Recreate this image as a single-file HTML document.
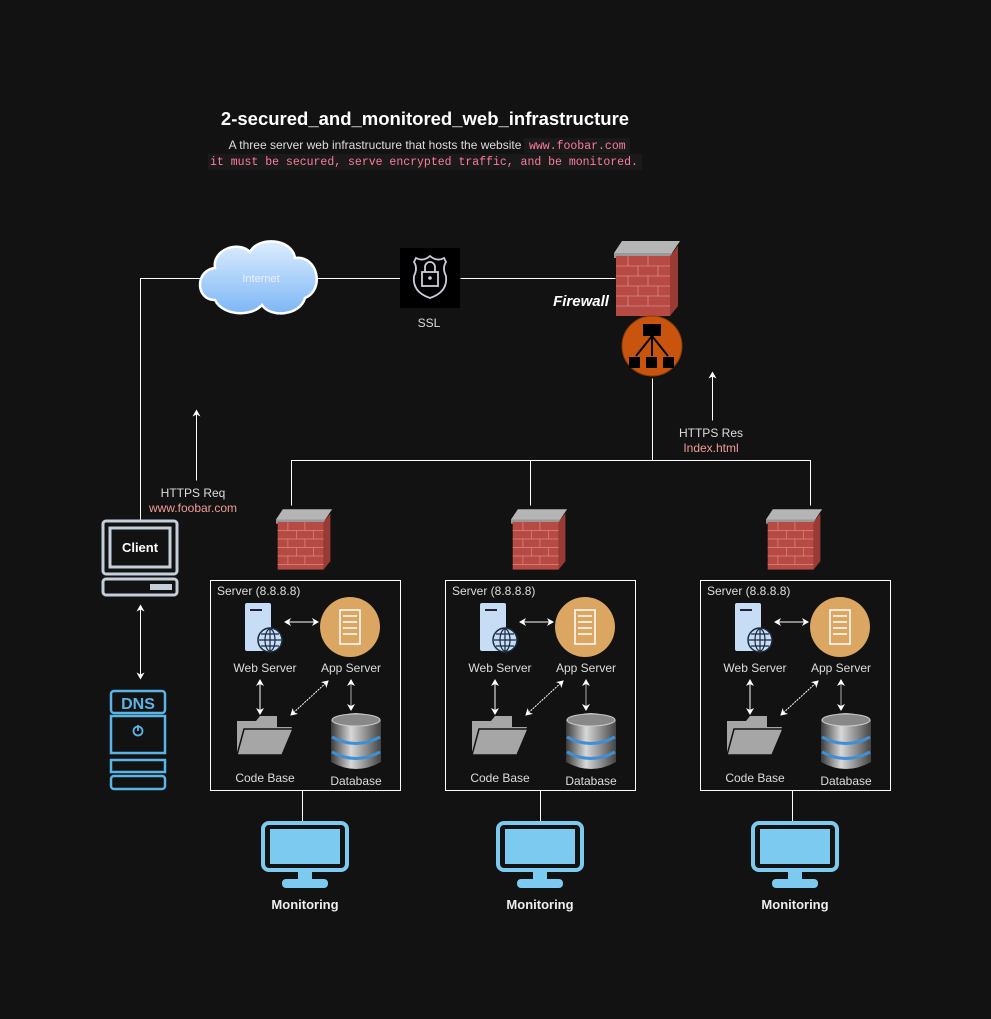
<!DOCTYPE html>
<html><head><meta charset="utf-8"><style>
html,body{margin:0;padding:0;background:#121212;}
svg{display:block;font-family:"Liberation Sans",sans-serif;}
</style></head><body>
<svg width="991" height="1019" viewBox="0 0 991 1019" xmlns="http://www.w3.org/2000/svg">
<defs>
<marker id="a" markerWidth="8" markerHeight="8" refX="6" refY="4" orient="auto-start-reverse" markerUnits="userSpaceOnUse"><path d="M0,0 L7,4 L0,8 L2,4 z" fill="#fff"/></marker>
<linearGradient id="cl" x1="0" y1="0" x2="0" y2="1"><stop offset="0" stop-color="#dceefe"/><stop offset="1" stop-color="#7eb6f5"/></linearGradient>
<linearGradient id="db" x1="0" y1="0" x2="1" y2="0"><stop offset="0" stop-color="#3a3a3a"/><stop offset="0.4" stop-color="#d8d8d8"/><stop offset="1" stop-color="#444"/></linearGradient>
</defs>
<rect width="991" height="1019" fill="#121212"/>
<!-- title -->
<text x="425" y="125" text-anchor="middle" fill="#fff" font-size="18.5" font-weight="bold">2-secured_and_monitored_web_infrastructure</text>
<text x="375" y="149" text-anchor="middle" fill="#ddd" font-size="12">A three server web infrastructure that hosts the website</text>
<rect x="524" y="138" width="106" height="15" fill="#1a1a1a"/>
<rect x="208" y="154" width="434" height="16" fill="#1a1a1a"/>
<text x="529" y="149" fill="#ff7b9c" font-family="Liberation Mono,monospace" font-size="11.5">www.foobar.com</text>
<text x="210" y="165" fill="#ff7b9c" font-family="Liberation Mono,monospace" font-size="11.5">it must be secured, serve encrypted traffic, and be monitored.</text>

<!-- lines -->
<g stroke="#fff" stroke-width="1" fill="none" transform="translate(0.5,0.5)">
<path d="M140 520 V278 H205"/>
<path d="M315 278 H400"/>
<path d="M460 278 H615"/>
<path d="M652 378 V460"/>
<path d="M291 505 V460 H810 V505"/>
<path d="M530 460 V505"/>
<path d="M712 420 V372" marker-end="url(#a)"/>
<path d="M196 480 V410" marker-end="url(#a)"/>
<path d="M140 605 V678" marker-start="url(#a)" marker-end="url(#a)"/>
<path d="M302 790 V822"/><path d="M540 790 V822"/><path d="M792 790 V822"/>
</g>

<!-- cloud -->
<path d="M215 300 C195 300 195 270 215 268 C212 250 238 240 250 252 C258 236 292 238 295 258 C318 255 325 290 305 298 C300 316 270 318 262 305 C250 318 222 315 215 300 Z" fill="url(#cl)" stroke="#fff" stroke-width="2.5"/>
<text x="261" y="282" text-anchor="middle" fill="#eef" font-size="11">Internet</text>

<!-- SSL -->
<rect x="400" y="248" width="60" height="60" fill="#000"/>
<path d="M416 258 Q423 262 430 256 Q437 262 444 258 L446 262 Q442 268 446 276 Q448 292 430 298 Q412 292 414 276 Q418 268 414 262 Z" fill="none" stroke="#ccd" stroke-width="1.8"/>
<rect x="422" y="272" width="16" height="14" fill="none" stroke="#ccd" stroke-width="1.8"/>
<path d="M425 272 V267 A5 5 0 0 1 435 267 V272" fill="none" stroke="#ccd" stroke-width="1.8"/>
<circle cx="430" cy="278" r="1.8" fill="#ccd"/>
<text x="429" y="327" text-anchor="middle" fill="#ddd" font-size="12">SSL</text>

<!-- main firewall -->
<g transform="translate(614,236)">
<polygon points="0,17 58,17 66,5 8,5" fill="#b5b5b5"/>
<rect x="0" y="17" width="58" height="5" fill="#999"/>
<rect x="2" y="20" width="54" height="60" fill="#b84a44"/>
<polygon points="56,20 64,10 64,70 56,80" fill="#9a3a35"/>
<g stroke="#d98c86" stroke-width="0.8"><path d="M2 30H56M2 40H56M2 50H56M2 60H56M2 70H56M14 20V30M34 20V30M24 30V40M44 30V40M14 40V50M34 40V50M24 50V60M44 50V60M14 60V70M34 60V70"/></g>
</g>
<text x="581" y="306" text-anchor="middle" fill="#fff" font-size="15" font-weight="bold" font-style="italic">Firewall</text>

<!-- load balancer -->
<circle cx="652" cy="346" r="30" fill="#c8540d" stroke="#8a3b08"/>
<rect x="643" y="324" width="18" height="12" fill="#000"/>
<g stroke="#000" stroke-width="2"><path d="M652 336 L636 356 M652 336 V356 M652 336 L668 356"/></g>
<rect x="629" y="357" width="11" height="11" fill="#000"/><rect x="646" y="357" width="11" height="11" fill="#000"/><rect x="663" y="357" width="11" height="11" fill="#000"/>
<text x="711" y="437" text-anchor="middle" fill="#ddd" font-size="12">HTTPS Res</text>
<text x="711" y="452" text-anchor="middle" fill="#f19c99" font-size="12">Index.html</text>
<text x="193" y="497" text-anchor="middle" fill="#ddd" font-size="12">HTTPS Req</text>
<text x="193" y="512" text-anchor="middle" fill="#f19c99" font-size="12">www.foobar.com</text>

<!-- client -->
<g fill="none" stroke="#c4cfdc" stroke-width="3">
<rect x="103" y="521" width="74" height="53" rx="3"/>
<rect x="110" y="528" width="60" height="39"/>
<rect x="103" y="579" width="74" height="16" rx="3"/>
</g>
<rect x="150" y="584" width="22" height="6" fill="#c4cfdc"/>
<text x="140" y="552" text-anchor="middle" fill="#fff" font-size="13" font-weight="bold">Client</text>

<!-- DNS -->
<g fill="none" stroke="#5ab4e4" stroke-width="2.5">
<rect x="111" y="691" width="54" height="22" rx="3"/>
<rect x="111" y="716" width="54" height="37"/>
<rect x="111" y="760" width="54" height="12"/>
<rect x="111" y="776" width="54" height="13" rx="3"/>
<circle cx="138" cy="731" r="4.5" stroke-width="1.8"/>
</g>
<path d="M138 725 V731" stroke="#5ab4e4" stroke-width="1.8"/>
<text x="138" y="709" text-anchor="middle" fill="#5ab4e4" font-size="16" font-weight="bold">DNS</text>

<!-- small firewalls -->
<g transform="translate(276,505) scale(0.85)">
<polygon points="0,17 58,17 66,5 8,5" fill="#b5b5b5"/>
<rect x="0" y="17" width="58" height="5" fill="#999"/>
<rect x="2" y="20" width="54" height="56" fill="#b84a44"/>
<polygon points="56,20 64,10 64,66 56,76" fill="#9a3a35"/>
<g stroke="#d98c86" stroke-width="0.8"><path d="M2 30H56M2 40H56M2 50H56M2 60H56M2 70H56M14 20V30M34 20V30M24 30V40M44 30V40M14 40V50M34 40V50M24 50V60M44 50V60M14 60V70M34 60V70"/></g>
</g>
<g transform="translate(511,505) scale(0.85)">
<polygon points="0,17 58,17 66,5 8,5" fill="#b5b5b5"/>
<rect x="0" y="17" width="58" height="5" fill="#999"/>
<rect x="2" y="20" width="54" height="56" fill="#b84a44"/>
<polygon points="56,20 64,10 64,66 56,76" fill="#9a3a35"/>
<g stroke="#d98c86" stroke-width="0.8"><path d="M2 30H56M2 40H56M2 50H56M2 60H56M2 70H56M14 20V30M34 20V30M24 30V40M44 30V40M14 40V50M34 40V50M24 50V60M44 50V60M14 60V70M34 60V70"/></g>
</g>
<g transform="translate(766,505) scale(0.85)">
<polygon points="0,17 58,17 66,5 8,5" fill="#b5b5b5"/>
<rect x="0" y="17" width="58" height="5" fill="#999"/>
<rect x="2" y="20" width="54" height="56" fill="#b84a44"/>
<polygon points="56,20 64,10 64,66 56,76" fill="#9a3a35"/>
<g stroke="#d98c86" stroke-width="0.8"><path d="M2 30H56M2 40H56M2 50H56M2 60H56M2 70H56M14 20V30M34 20V30M24 30V40M44 30V40M14 40V50M34 40V50M24 50V60M44 50V60M14 60V70M34 60V70"/></g>
</g>

<!-- Box 1 -->
<g>
<rect x="210.5" y="580.5" width="190" height="210" fill="none" stroke="#fff"/>
<text x="217" y="595" fill="#ddd" font-size="12">Server (8.8.8.8)</text>
<rect x="245" y="603" width="26" height="48" rx="2" fill="#c7dcf5"/>
<rect x="250" y="609" width="12" height="2" fill="#223"/>
<circle cx="270" cy="640" r="12" fill="#c7dcf5" stroke="#1a2a40" stroke-width="1.5"/>
<g fill="none" stroke="#1a2a40" stroke-width="1.2"><ellipse cx="270" cy="640" rx="5" ry="11"/><path d="M259 640H281M261 634H279M261 646H279M270 629V651"/></g>
<circle cx="350" cy="627" r="30" fill="#dba662"/>
<rect x="340" y="610" width="20" height="34" fill="none" stroke="#fff" stroke-width="1.5"/>
<g stroke="#fff" stroke-width="1.5"><path d="M343 616H357M343 622H357M343 628H357M343 634H357"/></g>
<text x="265" y="672" text-anchor="middle" fill="#ddd" font-size="12">Web Server</text>
<text x="351" y="672" text-anchor="middle" fill="#ddd" font-size="12">App Server</text>
<g stroke="#fff" fill="none"><path d="M285 622H318" marker-start="url(#a)" marker-end="url(#a)"/><path d="M260 680V714" marker-start="url(#a)" marker-end="url(#a)"/><path d="M328 681L291 715" marker-start="url(#a)" marker-end="url(#a)" stroke-dasharray="2,1"/><path d="M351 680V710" stroke="#aaa" marker-start="url(#a)" marker-end="url(#a)"/></g>
<path d="M237 721 H256 L260 716 H277 V727 H292 L282 755 H237 Z" fill="#a6a6a6"/>
<path d="M244 729 H293 L282 755 H237 Z" fill="#a6a6a6" stroke="#121212" stroke-width="1.5"/>
<path d="M331 720 Q356 706 381 720 V762 Q356 776 331 762 Z" fill="url(#db)"/>
<ellipse cx="356" cy="720" rx="24" ry="6" fill="#888" stroke="#ccc"/>
<path d="M332 737 Q356 750 380 737 M332 752 Q356 765 380 752" stroke="#3e8fd6" stroke-width="3" fill="none"/>
<text x="265" y="782" text-anchor="middle" fill="#ddd" font-size="12">Code Base</text>
<text x="356" y="785" text-anchor="middle" fill="#ddd" font-size="12">Database</text>
<rect x="263" y="823" width="84" height="47" rx="6" fill="none" stroke="#7ccaf0" stroke-width="4"/>
<rect x="270" y="829" width="70" height="35" fill="#7ccaf0"/>
<rect x="298" y="871" width="14" height="9" fill="#7ccaf0"/>
<rect x="282" y="879" width="46" height="9" rx="4" fill="#7ccaf0"/>
<text x="305" y="909" text-anchor="middle" fill="#eee" font-size="13" font-weight="bold">Monitoring</text>
</g>
<!-- Box 2 -->
<g transform="translate(235,0)">
<rect x="210.5" y="580.5" width="190" height="210" fill="none" stroke="#fff"/>
<text x="217" y="595" fill="#ddd" font-size="12">Server (8.8.8.8)</text>
<rect x="245" y="603" width="26" height="48" rx="2" fill="#c7dcf5"/>
<rect x="250" y="609" width="12" height="2" fill="#223"/>
<circle cx="270" cy="640" r="12" fill="#c7dcf5" stroke="#1a2a40" stroke-width="1.5"/>
<g fill="none" stroke="#1a2a40" stroke-width="1.2"><ellipse cx="270" cy="640" rx="5" ry="11"/><path d="M259 640H281M261 634H279M261 646H279M270 629V651"/></g>
<circle cx="350" cy="627" r="30" fill="#dba662"/>
<rect x="340" y="610" width="20" height="34" fill="none" stroke="#fff" stroke-width="1.5"/>
<g stroke="#fff" stroke-width="1.5"><path d="M343 616H357M343 622H357M343 628H357M343 634H357"/></g>
<text x="265" y="672" text-anchor="middle" fill="#ddd" font-size="12">Web Server</text>
<text x="351" y="672" text-anchor="middle" fill="#ddd" font-size="12">App Server</text>
<g stroke="#fff" fill="none"><path d="M285 622H318" marker-start="url(#a)" marker-end="url(#a)"/><path d="M260 680V714" marker-start="url(#a)" marker-end="url(#a)"/><path d="M328 681L291 715" marker-start="url(#a)" marker-end="url(#a)" stroke-dasharray="2,1"/><path d="M351 680V710" stroke="#aaa" marker-start="url(#a)" marker-end="url(#a)"/></g>
<path d="M237 721 H256 L260 716 H277 V727 H292 L282 755 H237 Z" fill="#a6a6a6"/>
<path d="M244 729 H293 L282 755 H237 Z" fill="#a6a6a6" stroke="#121212" stroke-width="1.5"/>
<path d="M331 720 Q356 706 381 720 V762 Q356 776 331 762 Z" fill="url(#db)"/>
<ellipse cx="356" cy="720" rx="24" ry="6" fill="#888" stroke="#ccc"/>
<path d="M332 737 Q356 750 380 737 M332 752 Q356 765 380 752" stroke="#3e8fd6" stroke-width="3" fill="none"/>
<text x="265" y="782" text-anchor="middle" fill="#ddd" font-size="12">Code Base</text>
<text x="356" y="785" text-anchor="middle" fill="#ddd" font-size="12">Database</text>
<rect x="263" y="823" width="84" height="47" rx="6" fill="none" stroke="#7ccaf0" stroke-width="4"/>
<rect x="270" y="829" width="70" height="35" fill="#7ccaf0"/>
<rect x="298" y="871" width="14" height="9" fill="#7ccaf0"/>
<rect x="282" y="879" width="46" height="9" rx="4" fill="#7ccaf0"/>
<text x="305" y="909" text-anchor="middle" fill="#eee" font-size="13" font-weight="bold">Monitoring</text>
</g>
<!-- Box 3 -->
<g transform="translate(490,0)">
<rect x="210.5" y="580.5" width="190" height="210" fill="none" stroke="#fff"/>
<text x="217" y="595" fill="#ddd" font-size="12">Server (8.8.8.8)</text>
<rect x="245" y="603" width="26" height="48" rx="2" fill="#c7dcf5"/>
<rect x="250" y="609" width="12" height="2" fill="#223"/>
<circle cx="270" cy="640" r="12" fill="#c7dcf5" stroke="#1a2a40" stroke-width="1.5"/>
<g fill="none" stroke="#1a2a40" stroke-width="1.2"><ellipse cx="270" cy="640" rx="5" ry="11"/><path d="M259 640H281M261 634H279M261 646H279M270 629V651"/></g>
<circle cx="350" cy="627" r="30" fill="#dba662"/>
<rect x="340" y="610" width="20" height="34" fill="none" stroke="#fff" stroke-width="1.5"/>
<g stroke="#fff" stroke-width="1.5"><path d="M343 616H357M343 622H357M343 628H357M343 634H357"/></g>
<text x="265" y="672" text-anchor="middle" fill="#ddd" font-size="12">Web Server</text>
<text x="351" y="672" text-anchor="middle" fill="#ddd" font-size="12">App Server</text>
<g stroke="#fff" fill="none"><path d="M285 622H318" marker-start="url(#a)" marker-end="url(#a)"/><path d="M260 680V714" marker-start="url(#a)" marker-end="url(#a)"/><path d="M328 681L291 715" marker-start="url(#a)" marker-end="url(#a)" stroke-dasharray="2,1"/><path d="M351 680V710" stroke="#aaa" marker-start="url(#a)" marker-end="url(#a)"/></g>
<path d="M237 721 H256 L260 716 H277 V727 H292 L282 755 H237 Z" fill="#a6a6a6"/>
<path d="M244 729 H293 L282 755 H237 Z" fill="#a6a6a6" stroke="#121212" stroke-width="1.5"/>
<path d="M331 720 Q356 706 381 720 V762 Q356 776 331 762 Z" fill="url(#db)"/>
<ellipse cx="356" cy="720" rx="24" ry="6" fill="#888" stroke="#ccc"/>
<path d="M332 737 Q356 750 380 737 M332 752 Q356 765 380 752" stroke="#3e8fd6" stroke-width="3" fill="none"/>
<text x="265" y="782" text-anchor="middle" fill="#ddd" font-size="12">Code Base</text>
<text x="356" y="785" text-anchor="middle" fill="#ddd" font-size="12">Database</text>
<rect x="263" y="823" width="84" height="47" rx="6" fill="none" stroke="#7ccaf0" stroke-width="4"/>
<rect x="270" y="829" width="70" height="35" fill="#7ccaf0"/>
<rect x="298" y="871" width="14" height="9" fill="#7ccaf0"/>
<rect x="282" y="879" width="46" height="9" rx="4" fill="#7ccaf0"/>
<text x="305" y="909" text-anchor="middle" fill="#eee" font-size="13" font-weight="bold">Monitoring</text>
</g>
</svg>
</body></html>
